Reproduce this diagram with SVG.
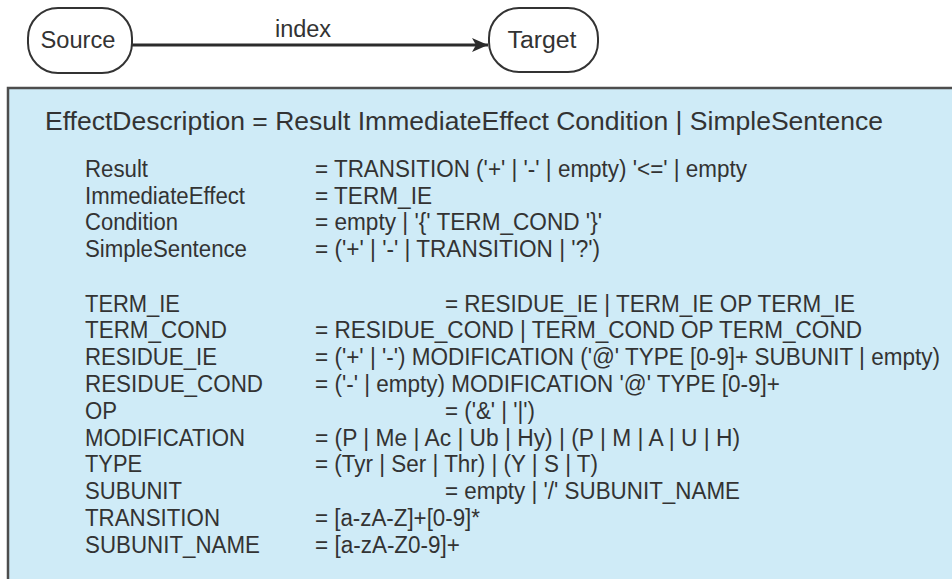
<svg xmlns="http://www.w3.org/2000/svg" width="952" height="579" viewBox="0 0 952 579">
  <style>
    .node { fill: #ffffff; stroke: #333333; stroke-width: 2; }
    .nlabel { font-family: "Liberation Sans", Arial, sans-serif; font-size: 23.5px; fill: #333333; }
    .edge { stroke: #2b2b2b; stroke-width: 3; fill: none; }
    .panel { fill: #cfebf7; stroke: #4d4d4d; stroke-width: 2.5; }
    .head { font-family: "Liberation Sans", Arial, sans-serif; font-size: 25px; fill: #333333; }
    .g { font-family: "Liberation Sans", Arial, sans-serif; font-size: 23px; fill: #333333; }
  </style>
  <defs>
    <marker id="arrow" markerUnits="userSpaceOnUse" markerWidth="18" markerHeight="16" refX="16" refY="8" orient="auto">
      <path d="M0,1 L16,8 L0,15 L4,8 Z" fill="#2b2b2b"/>
    </marker>
  </defs>

  <!-- connectors -->
  <g id="connectors">
    <line class="edge" x1="132" y1="45" x2="488" y2="45" marker-end="url(#arrow)"/>
    <text class="nlabel" x="303" y="37" font-size="21" text-anchor="middle">index</text>
  </g>

  <!-- nodes -->
  <g id="source">
    <rect class="node" x="28" y="8" width="104" height="65" rx="30" ry="30"/>
    <text class="nlabel" x="78" y="48" text-anchor="middle" textLength="75" lengthAdjust="spacingAndGlyphs">Source</text>
  </g>
  <g id="target">
    <rect class="node" x="489" y="8" width="109" height="64" rx="30" ry="30"/>
    <text class="nlabel" x="542" y="48" text-anchor="middle" textLength="69" lengthAdjust="spacingAndGlyphs">Target</text>
  </g>

  <!-- grammar panel -->
  <g id="grammar">
    <rect class="panel" x="8" y="88" width="970" height="520"/>
    <text class="head" x="45" y="130" textLength="838" lengthAdjust="spacingAndGlyphs">EffectDescription = Result ImmediateEffect Condition | SimpleSentence</text>

    <text class="g" x="85" y="177" textLength="63" lengthAdjust="spacingAndGlyphs">Result</text>
    <text class="g" x="315" y="177" textLength="432" lengthAdjust="spacingAndGlyphs">= TRANSITION ('+' | '-' | empty) '&lt;=' | empty</text>
    <text class="g" x="85" y="203.5" textLength="160" lengthAdjust="spacingAndGlyphs">ImmediateEffect</text>
    <text class="g" x="315" y="203.5" textLength="117" lengthAdjust="spacingAndGlyphs">= TERM_IE</text>
    <text class="g" x="85" y="230" textLength="93" lengthAdjust="spacingAndGlyphs">Condition</text>
    <text class="g" x="315" y="230" textLength="287" lengthAdjust="spacingAndGlyphs">= empty | '{' TERM_COND '}'</text>
    <text class="g" x="85" y="256.5" textLength="162" lengthAdjust="spacingAndGlyphs">SimpleSentence</text>
    <text class="g" x="315" y="256.5" textLength="285" lengthAdjust="spacingAndGlyphs">= ('+' | '-' | TRANSITION | '?')</text>

    <text class="g" x="85" y="311.5" textLength="95" lengthAdjust="spacingAndGlyphs">TERM_IE</text>
    <text class="g" x="445" y="311.5" textLength="410" lengthAdjust="spacingAndGlyphs">= RESIDUE_IE | TERM_IE OP TERM_IE</text>
    <text class="g" x="85" y="338.3" textLength="142" lengthAdjust="spacingAndGlyphs">TERM_COND</text>
    <text class="g" x="315" y="338.3" textLength="547" lengthAdjust="spacingAndGlyphs">= RESIDUE_COND | TERM_COND OP TERM_COND</text>
    <text class="g" x="85" y="365.1" textLength="132" lengthAdjust="spacingAndGlyphs">RESIDUE_IE</text>
    <text class="g" x="315" y="365.1" textLength="625" lengthAdjust="spacingAndGlyphs">= ('+' | '-') MODIFICATION ('@' TYPE [0-9]+ SUBUNIT | empty)</text>
    <text class="g" x="85" y="391.9" textLength="178" lengthAdjust="spacingAndGlyphs">RESIDUE_COND</text>
    <text class="g" x="315" y="391.9" textLength="465" lengthAdjust="spacingAndGlyphs">= ('-' | empty) MODIFICATION '@' TYPE [0-9]+</text>
    <text class="g" x="85" y="418.7" textLength="32" lengthAdjust="spacingAndGlyphs">OP</text>
    <text class="g" x="445" y="418.7" textLength="90" lengthAdjust="spacingAndGlyphs">= ('&amp;' | '|')</text>
    <text class="g" x="85" y="445.5" textLength="160" lengthAdjust="spacingAndGlyphs">MODIFICATION</text>
    <text class="g" x="315" y="445.5" textLength="425" lengthAdjust="spacingAndGlyphs">= (P | Me | Ac | Ub | Hy) | (P | M | A | U | H)</text>
    <text class="g" x="85" y="472.3" textLength="57" lengthAdjust="spacingAndGlyphs">TYPE</text>
    <text class="g" x="315" y="472.3" textLength="283" lengthAdjust="spacingAndGlyphs">= (Tyr | Ser | Thr) | (Y | S | T)</text>
    <text class="g" x="85" y="499.1" textLength="97" lengthAdjust="spacingAndGlyphs">SUBUNIT</text>
    <text class="g" x="445" y="499.1" textLength="295" lengthAdjust="spacingAndGlyphs">= empty | '/' SUBUNIT_NAME</text>
    <text class="g" x="85" y="525.9" textLength="135" lengthAdjust="spacingAndGlyphs">TRANSITION</text>
    <text class="g" x="315" y="525.9" textLength="165" lengthAdjust="spacingAndGlyphs">= [a-zA-Z]+[0-9]*</text>
    <text class="g" x="85" y="552.7" textLength="175" lengthAdjust="spacingAndGlyphs">SUBUNIT_NAME</text>
    <text class="g" x="315" y="552.7" textLength="145" lengthAdjust="spacingAndGlyphs">= [a-zA-Z0-9]+</text>
  </g>
</svg>
